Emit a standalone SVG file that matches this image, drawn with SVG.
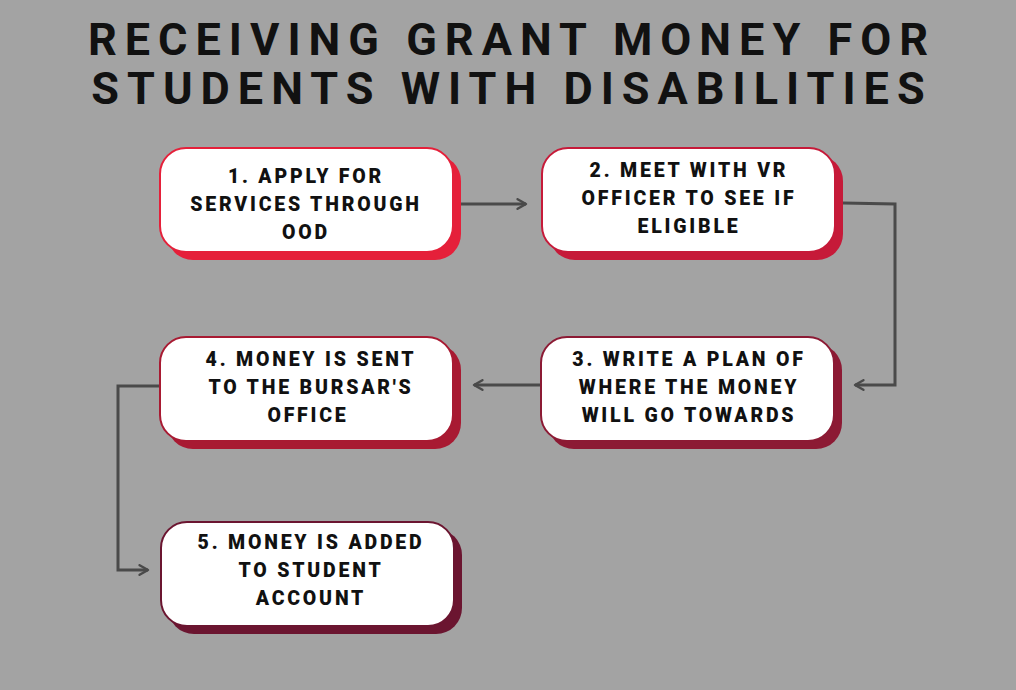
<svg xmlns="http://www.w3.org/2000/svg" width="1016" height="690" viewBox="0 0 1016 690">
<defs>
<style>
.bg{fill:#a3a3a3}
.title{font-family:Roboto,"Liberation Sans",sans-serif;font-weight:700;font-size:45px;letter-spacing:8px;fill:#111;text-anchor:middle}
.card{fill:#fff;stroke-width:2}
.lbl{font-family:Roboto,"Liberation Sans",sans-serif;font-weight:900;font-size:19.5px;letter-spacing:2.8px;fill:#111;text-anchor:middle}
.conn{fill:none;stroke:#4a4a4a;stroke-width:3}
</style>
<marker id="ah" viewBox="0 0 10 10" refX="8" refY="5" markerWidth="4" markerHeight="4" orient="auto" markerUnits="strokeWidth">
<path d="M1,1 L8,5 L1,9" fill="none" stroke="#4a4a4a" stroke-width="2" stroke-linecap="round" stroke-linejoin="round"/>
</marker>
</defs>
<rect class="bg" x="0" y="0" width="1016" height="690"/>
<g id="title">
<text class="title" x="512" y="55">RECEIVING GRANT MONEY FOR</text>
<text class="title" x="512" y="104">STUDENTS WITH DISABILITIES</text>
</g>
<g id="connectors">
<path class="conn" d="M461,204 L526,204" marker-end="url(#ah)"/>
<path class="conn" d="M843,203 L895,204 L895,385 L855,385" marker-end="url(#ah)"/>
<path class="conn" d="M540,385 L474,385" marker-end="url(#ah)"/>
<path class="conn" d="M159,386 L118,386 L118,570 L148,570" marker-end="url(#ah)"/>
</g>
<g id="node1">
<rect x="167" y="155" width="294" height="105" rx="26" fill="#e5203a"/>
<rect class="card" x="160" y="148" width="293" height="104" rx="26" stroke="#e5203a"/>
<text class="lbl" x="306" y="183">1. APPLY FOR</text>
<text class="lbl" x="306" y="211">SERVICES THROUGH</text>
<text class="lbl" x="306" y="239">OOD</text>
</g>
<g id="node2">
<rect x="549" y="155" width="294" height="105" rx="26" fill="#c61a39"/>
<rect class="card" x="542" y="148" width="293" height="104" rx="26" stroke="#c61a39"/>
<text class="lbl" x="689" y="177">2. MEET WITH VR</text>
<text class="lbl" x="689" y="205">OFFICER TO SEE IF</text>
<text class="lbl" x="689" y="233">ELIGIBLE</text>
</g>
<g id="node3">
<rect x="548" y="344" width="294" height="105" rx="26" fill="#8c1a34"/>
<rect class="card" x="541" y="337" width="293" height="104" rx="26" stroke="#8c1a34"/>
<text class="lbl" x="689" y="366">3. WRITE A PLAN OF</text>
<text class="lbl" x="689" y="394">WHERE THE MONEY</text>
<text class="lbl" x="689" y="422">WILL GO TOWARDS</text>
</g>
<g id="node4">
<rect x="167" y="344" width="294" height="105" rx="26" fill="#a81a32"/>
<rect class="card" x="160" y="337" width="293" height="104" rx="26" stroke="#a81a32"/>
<text class="lbl" x="311" y="366">4. MONEY IS SENT</text>
<text class="lbl" x="311" y="394">TO THE BURSAR'S</text>
<text class="lbl" x="308" y="422">OFFICE</text>
</g>
<g id="node5">
<rect x="168" y="529" width="294" height="105" rx="26" fill="#6b1530"/>
<rect class="card" x="161" y="522" width="293" height="104" rx="26" stroke="#6b1530"/>
<text class="lbl" x="311" y="549">5. MONEY IS ADDED</text>
<text class="lbl" x="311" y="577">TO STUDENT</text>
<text class="lbl" x="311" y="605">ACCOUNT</text>
</g>
</svg>
